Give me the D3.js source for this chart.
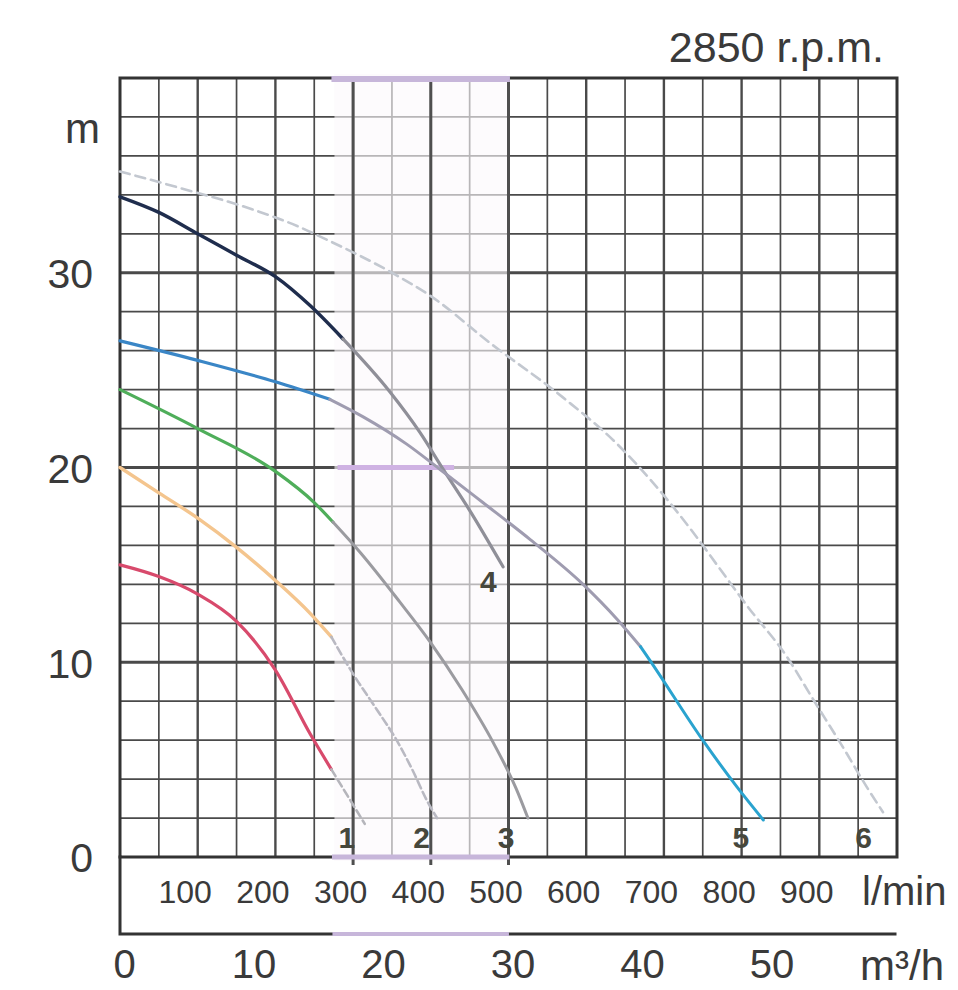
<!DOCTYPE html>
<html>
<head>
<meta charset="utf-8">
<script src="https://d3js.org/d3.v7.min.js"></script>
<style>
  body { margin: 0; background: #fff; }
  text { font-family: "Liberation Sans", Arial, sans-serif; fill: #3a3a3a; }
</style>
</head>
<body>
<div id="chart"></div>
<script>
// pump curves: [flow l/min, head m]
var curve1 = [[0,15.0],[50,14.4],[100,13.5],[150,12.1],[200,9.6],[245,6.3],[272,4.5],[292,3.2],[315,1.7]];
var curve2 = [[0,20.0],[50,18.7],[100,17.4],[150,15.9],[200,14.2],[245,12.5],[272,11.3],[300,9.4],[330,7.6],[356,6.0],[376,4.5],[395,2.9],[408,2.0]];
var curve3 = [[0,24.0],[100,22.0],[200,19.8],[250,18.2],[274,17.2],[310,15.6],[360,13.1],[400,11.0],[440,8.6],[480,5.9],[510,3.5],[525,2.0]];
var curve4 = [[0,33.9],[50,33.1],[100,32.0],[150,30.9],[200,29.8],[245,28.3],[287,26.6],[347,23.9],[386,21.8],[416,19.9],[450,17.8],[493,14.9]];
var curve5 = [[0,26.5],[100,25.5],[200,24.4],[270,23.5],[313,22.6],[369,21.2],[412,19.9],[467,18.2],[528,16.3],[596,14.0],[640,12.2],[670,10.8],[682,10.1],[750,6.0],[794,3.6],[828,1.9]];
var curve6 = [[0,35.2],[73,34.4],[167,33.3],[228,32.4],[266,31.7],[350,30.0],[400,28.8],[476,26.4],[570,23.6],[640,21.2],[682,19.4],[737,16.7],[772,14.8],[807,12.9],[858,10.3],[892,8.1],[931,5.6],[961,3.6],[982,2.3]];

var headTicks = [0, 10, 20, 30];
var lpmTicks = [100, 200, 300, 400, 500, 600, 700, 800, 900];
var m3hTicks = [0, 10, 20, 30, 40, 50];
var curveNames = ["1", "2", "3", "4", "5", "6"];

var W = 958, H = 990;
var x = d3.scaleLinear().domain([0, 1000]).range([120, 897]);
var y = d3.scaleLinear().domain([0, 40]).range([857, 78]);
var m3h = d3.scaleLinear().domain([0, 60]).range([120, 897]);   // 60 m3/h = 1000 l/min

var svg = d3.select("#chart").append("svg")
    .attr("width", W)
    .attr("height", H);

// grid
var grid = svg.append("g");
grid.selectAll(".vl")
    .data(d3.range(50, 1000, 50))
    .enter().append("line")
        .attr("x1", d => x(d)).attr("x2", d => x(d))
        .attr("y1", y(40)).attr("y2", y(0))
        .attr("stroke", "#4a4a4a")
        .attr("stroke-width", d => d % 100 == 0 ? 2.4 : 1.7);
grid.selectAll(".hl")
    .data(d3.range(2, 40, 2))
    .enter().append("line")
        .attr("x1", x(0)).attr("x2", x(1000))
        .attr("y1", d => y(d)).attr("y2", d => y(d))
        .attr("stroke", "#4a4a4a")
        .attr("stroke-width", d => d % 10 == 0 ? 3.2 : 1.7);

// washed-out strip of the scan between ~275 and 500 l/min
svg.append("rect")
    .attr("x", x(276)).attr("y", y(40) - 4)
    .attr("width", x(498) - x(276)).attr("height", y(0) - y(40) + 8)
    .attr("fill", "#fbf9fc").attr("opacity", 0.62);
svg.selectAll(".strong")
    .data([300, 400, 500])
    .enter().append("line")
        .attr("x1", d => x(d)).attr("x2", d => x(d))
        .attr("y1", y(40)).attr("y2", y(0) + 8)
        .attr("stroke", "#4f4f4f").attr("stroke-width", 3);
svg.append("line")
    .attr("x1", x(280)).attr("x2", x(430))
    .attr("y1", y(20)).attr("y2", y(20))
    .attr("stroke", "#cfb2e3").attr("stroke-width", 5);

// frame
var frame = svg.append("g").attr("fill", "none").attr("stroke-linecap", "square");
frame.append("path")
    .attr("d", "M" + x(0) + "," + y(40) + "V" + y(0) + "H" + x(1000) + "V" + y(40) + "Z")
    .attr("stroke", "#333").attr("stroke-width", 3);
frame.append("path")
    .attr("d", "M" + x(0) + "," + y(0) + "V934H" + (x(1000) - 2))
    .attr("stroke", "#333").attr("stroke-width", 3);
// lavender bits of the scan over the strip
[[y(40) + 1, 6], [y(0), 5], [934, 4]].forEach(function (s) {
    frame.append("line")
        .attr("x1", x(276)).attr("x2", x(498))
        .attr("y1", s[0]).attr("y2", s[0])
        .attr("stroke", "#c7b6da").attr("stroke-width", s[1]);
});

// curves
var line = d3.line()
    .x(d => x(d[0]))
    .y(d => y(d[1]))
    .curve(d3.curveMonotoneX);

var curves = [
    { data: curve1, name: curveNames[0], at: [292, 0.45], parts: [
        { to: 272, color: "#d84a6c", w: 3.2 },
        { to: 2000, color: "#b5b5bb", w: 2.6, dash: "8,4" }] },
    { data: curve2, name: curveNames[1], at: [388, 0.45], parts: [
        { to: 272, color: "#f4c58e", w: 3.4 },
        { to: 2000, color: "#b9b9c2", w: 2.6, dash: "8,4" }] },
    { data: curve3, name: curveNames[2], at: [497, 0.45], parts: [
        { to: 274, color: "#4fae5a", w: 3.2 },
        { to: 2000, color: "#9b9ba0", w: 3 }] },
    { data: curve4, name: curveNames[3], at: [474, 13.6], parts: [
        { to: 287, color: "#1f2d4d", w: 3.4 },
        { to: 2000, color: "#8f8f98", w: 3.2 }] },
    { data: curve5, name: curveNames[4], at: [799, 0.45], parts: [
        { to: 270, color: "#3a86c6", w: 3.2 },
        { to: 670, color: "#9f9cb0", w: 3 },
        { to: 2000, color: "#2aa3cf", w: 3 }] },
    { data: curve6, name: curveNames[5], at: [957, 0.45], parts: [
        { to: 2000, color: "#c3c8d0", w: 2.6, dash: "10,6" }] }
];

var cg = svg.append("g").attr("fill", "none").attr("stroke-linecap", "round");
curves.forEach(function (c) {
    var from = 0;
    c.parts.forEach(function (p) {
        var seg = c.data.filter(d => d[0] >= from && d[0] <= p.to);
        cg.append("path")
            .datum(seg)
            .attr("d", line)
            .attr("stroke", p.color)
            .attr("stroke-width", p.w)
            .attr("stroke-dasharray", p.dash || null);
        from = p.to;
    });
});

svg.append("g").selectAll("text")
    .data(curves)
    .enter().append("text")
        .attr("x", d => x(d.at[0]))
        .attr("y", d => y(d.at[1]))
        .attr("text-anchor", "middle")
        .style("font-size", "30px")
        .style("font-weight", "bold")
        .style("fill", "#46473c")
        .text(d => d.name);

// head axis
var yAxis = svg.append("g")
    .attr("transform", "translate(" + x(0) + ",0)")
    .call(d3.axisLeft(y).tickValues(headTicks).tickSize(0).tickPadding(27));
yAxis.select(".domain").remove();
yAxis.selectAll("text").style("font-size", "41px").attr("dy", "0.36em");

// l/min axis
var lAxis = svg.append("g")
    .attr("transform", "translate(0," + y(0) + ")")
    .call(d3.axisBottom(x).tickValues(lpmTicks).tickSize(0).tickPadding(23));
lAxis.select(".domain").remove();
lAxis.selectAll("text").style("font-size", "32px").attr("dx", -13);

// m3/h axis
var mAxis = svg.append("g")
    .attr("transform", "translate(0,934)")
    .call(d3.axisBottom(m3h).tickValues(m3hTicks).tickSize(0).tickPadding(16));
mAxis.select(".domain").remove();
mAxis.selectAll("text").style("font-size", "40px").attr("dx", 4);

// unit labels
svg.append("text").attr("x", 100).attr("y", 143).attr("text-anchor", "end")
    .style("font-size", "42px").text("m");
svg.append("text").attr("x", 862).attr("y", 905)
    .style("font-size", "40px").text("l/min");
svg.append("text").attr("x", 860).attr("y", 980)
    .style("font-size", "42px").text("m³/h");
svg.append("text").attr("x", 884).attr("y", 62).attr("text-anchor", "end")
    .style("font-size", "43px").text("2850 r.p.m.");
</script>
</body>
</html>
